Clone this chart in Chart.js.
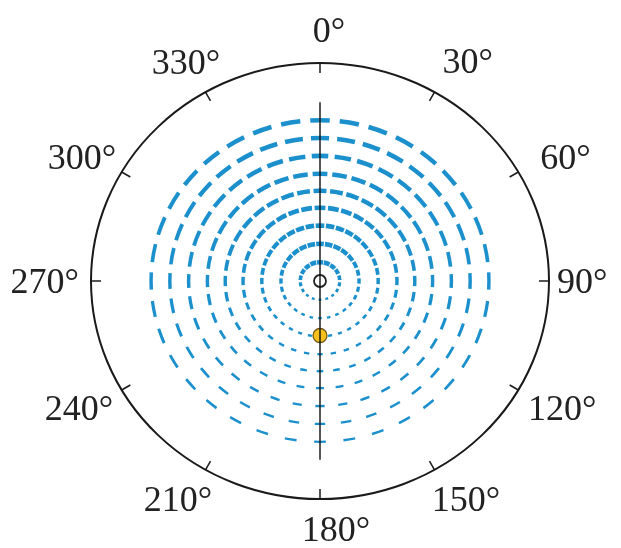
<!DOCTYPE html>
<html>
<head>
<meta charset="utf-8">
<script src="https://cdn.jsdelivr.net/npm/chart.js@4.4.0/dist/chart.umd.min.js"></script>
<style>
html, body { margin: 0; background: #fff; }
#wrap { width: 621px; height: 548px; }
</style>
</head>
<body>
<div id="wrap"><canvas id="polar"></canvas></div>
<script>
// wavefront radii, in plot units (outer frame circle = outerRadius)
var ringRadii = [1.05, 2.08, 3.1, 4.1, 5.05, 6.0, 7.0, 8.0, 9.0];
var outerRadius = 12.2;
var axisReach = 10;
var tickAngles = [0, 30, 60, 90, 120, 150, 180, 210, 240, 270, 300, 330];
var tickLabels = ['0°', '30°', '60°', '90°', '120°', '150°', '180°', '210°', '240°', '270°', '300°', '330°'];
var observerPoint = [{x: 0, y: 0}];
var sourcePoint = [{x: 0, y: -3.05}];
var axisLine = [{x: 0, y: axisReach}, {x: 0, y: -axisReach}];

var ctx = document.getElementById('polar');

function ellipseFor(chart, r) {
	var xs = chart.scales.x, ys = chart.scales.y;
	var cx = xs.getPixelForValue(0), cy = ys.getPixelForValue(0);
	return {cx: cx, cy: cy, rx: xs.getPixelForValue(r) - cx, ry: cy - ys.getPixelForValue(r)};
}

var polarFrame = {
	id: 'polarFrame',
	beforeDatasetsDraw: function(chart, args, opts) {
		var c = chart.ctx;
		c.save();

		// dashed wavefronts
		c.strokeStyle = opts.ringColor;
		c.lineCap = 'butt';
		ringRadii.forEach(function(r, i) {
			var e = ellipseFor(chart, r);
			var n = opts.dashCounts[i];
			var amp = 0.5 - 0.03 * i;
			for (var k = 0; k < n; k++) {
				var th = k * 2 * Math.PI / n;
				var t = (1 + Math.cos(th)) / 2;
				var s = Math.min(1, t * (1 + i * 0.08));
				var duty = 0.4 + amp * s;
				var half = duty * Math.PI / n;
				var a = th - Math.PI / 2;
				c.lineWidth = 2.3 + 2.3 * t;
				c.beginPath();
				c.ellipse(e.cx, e.cy, e.rx, e.ry, 0, a - half, a + half);
				c.stroke();
			}
		});

		// outer circle and tick marks
		var o = ellipseFor(chart, outerRadius);
		c.strokeStyle = '#1a1a1a';
		c.lineWidth = 2;
		c.beginPath();
		c.ellipse(o.cx, o.cy, o.rx, o.ry, 0, 0, 2 * Math.PI);
		c.stroke();
		c.lineWidth = 1.5;
		tickAngles.forEach(function(deg) {
			var th = deg * Math.PI / 180;
			var sx = Math.sin(th), sy = -Math.cos(th);
			c.beginPath();
			c.moveTo(o.cx + sx * o.rx, o.cy + sy * o.ry);
			c.lineTo(o.cx + sx * (o.rx - 10), o.cy + sy * (o.ry - 10));
			c.stroke();
		});

		// angle labels
		c.fillStyle = '#222';
		c.font = '36px "Liberation Serif", "Times New Roman", serif';
		c.textAlign = 'center';
		c.textBaseline = 'alphabetic';
		tickLabels.forEach(function(lab, i) {
			var th = tickAngles[i] * Math.PI / 180;
			var w = c.measureText(lab).width;
			var h = 24;
			var pad = opts.labelPad;
			var x = o.cx + Math.sin(th) * (o.rx + pad + Math.abs(Math.sin(th)) * w / 2);
			var y = o.cy - Math.cos(th) * (o.ry + pad + Math.abs(Math.cos(th)) * h / 2);
			var nudge = opts.labelNudge[i];
			c.fillText(lab, x + nudge[0], y + h / 2 + nudge[1]);
		});
		c.restore();
	}
};

var polarChart = new Chart(ctx, {
	type: 'scatter',
	data: {
		datasets: [
			{
				data: axisLine,
				showLine: true,
				borderColor: '#111',
				borderWidth: 1.4,
				pointRadius: 0
			},
			{
				data: observerPoint,
				pointRadius: 6,
				backgroundColor: '#fff',
				borderColor: '#222',
				borderWidth: 1.8
			},
			{
				data: sourcePoint,
				pointRadius: 7,
				backgroundColor: '#f6c11d',
				borderColor: '#6e5a1c',
				borderWidth: 1.3
			}
		]
	},
	options: {
		responsive: true,
		maintainAspectRatio: false,
		animation: false,
		events: [],
		layout: {padding: {left: 91, right: 72, top: 63, bottom: 49}},
		scales: {
			x: {type: 'linear', min: -outerRadius, max: outerRadius, display: false},
			y: {type: 'linear', min: -outerRadius, max: outerRadius, display: false}
		},
		plugins: {
			legend: {display: false},
			tooltip: {enabled: false},
			polarFrame: {
				ringColor: '#1c90cc',
				dashCounts: [18, 28, 36, 36, 36, 36, 36, 36, 36],
				labelPad: 14,
				labelNudge: [[9, -7], [20, -10], [16, -5], [-6, 0], [6, 8], [16, 8], [16, 4], [-12, 8], [-5, 8], [2, 0], [-2, -5], [-4, -9]]
			}
		}
	},
	plugins: [polarFrame]
});
</script>
</body>
</html>
